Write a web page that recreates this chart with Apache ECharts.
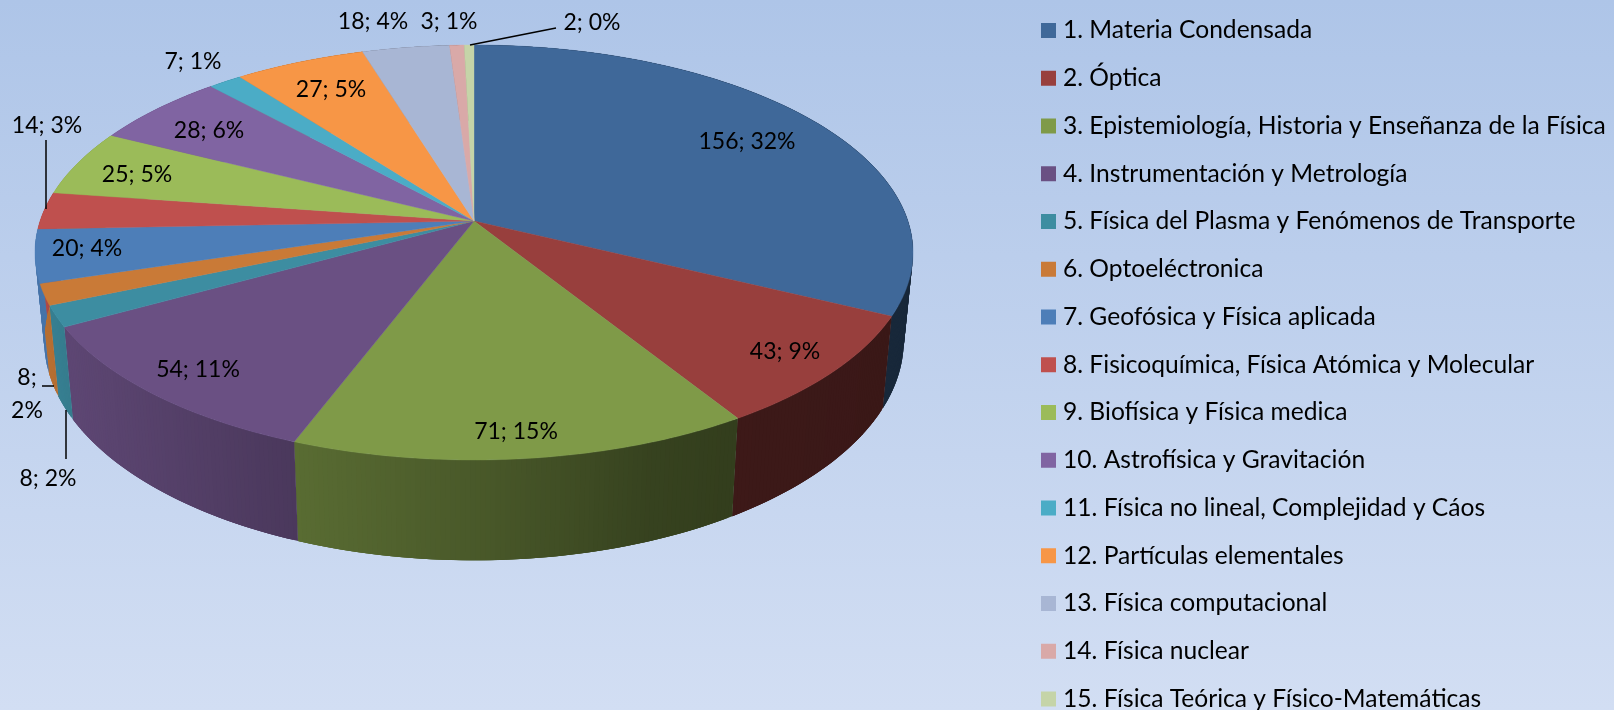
<!DOCTYPE html>
<html>
<head>
<meta charset="utf-8">
<style>html,body{margin:0;padding:0;background:#c0d2ee}#chart{width:1614px;height:710px}</style>
<script src="https://cdn.jsdelivr.net/npm/echarts@6/dist/echarts.min.js"></script>
</head>
<body>
<div id="chart"></div>
<script>
const categories = [
  "1. Materia Condensada","2. Óptica","3. Epistemiología, Historia y Enseñanza de la Física",
  "4. Instrumentación y Metrología","5. Física del Plasma y Fenómenos de Transporte","6. Optoeléctronica",
  "7. Geofósica y Física aplicada","8. Fisicoquímica, Física Atómica y Molecular","9. Biofísica y Física medica",
  "10. Astrofísica y Gravitación","11. Física no lineal, Complejidad y Cáos","12. Partículas elementales",
  "13. Física computacional","14. Física nuclear","15. Física Teórica y Físico-Matemáticas"
];
const values = [156,43,71,54,8,8,20,14,25,28,7,27,18,3,2];
const percents = [32,9,15,11,2,2,4,3,5,6,1,5,4,1,0];
const colors = ["#3f6899","#983f3d","#7f9a48","#6a5083","#3d8da1","#c97a37","#4d7eb8","#bf504e",
                "#9bbb59","#8064a2","#4bacc6","#f79646","#a8b6d4","#d9a9a8","#c5d4a8"];

// Label centres and leader lines (layout only).
const labelPos = [[747,142],[785,352],[516,432],[198,370],[48,479],[27,394],[87,249],[47,126],
                  [137,175],[209,131],[193,62],[331,90],[373,22],[449,22],[592,23]];
const labelWrap = [5];
const leaders = {4:[[66,410],[66,459]], 5:[[42,386],[54,386]], 7:[[46,140],[46,209]], 14:[[470,45],[556,28]]};

// Perspective of the disc: maps the unit circle on to the screen.
const CX=474, CY=221, A=433.9, B=202.7, K=0.1518;
const BOTTOM_SX=0.979, BOTTOM_SY=1.06, BOTTOM_Y=307;
const total = values.reduce((a,b)=>a+b,0);
function topPoint(t){ const u=Math.sin(t), v=-Math.cos(t), w=1-K*v; return [CX+A*u/w, CY+B*v/w]; }
function bottomPoint(p){ return [CX+BOTTOM_SX*(p[0]-CX), BOTTOM_Y+BOTTOM_SY*(p[1]-CY)]; }

const shadeX=[40,70,298,500,650,733,900], shadeF=[.92,.88,.70,.56,.43,.40,.38];
function shade(x){
  if(x<=shadeX[0])return shadeF[0];
  for(let i=1;i<shadeX.length;i++) if(x<=shadeX[i]){
    const r=(x-shadeX[i-1])/(shadeX[i]-shadeX[i-1]); return shadeF[i-1]+r*(shadeF[i]-shadeF[i-1]);
  }
  return shadeF[shadeF.length-1];
}
function mix(hex,f){
  const n=parseInt(hex.slice(1),16);
  return `rgb(${Math.round((n>>16&255)*f)},${Math.round((n>>8&255)*f)},${Math.round((n&255)*f)})`;
}

function render(idx){
  return function(params,api){
    const value=api.value(0);
    const before=values.slice(0,idx).reduce((a,b)=>a+b,0);
    const t0=before/total*Math.PI*2, t1=(before+value)/total*Math.PI*2;
    const n=Math.max(4,Math.ceil((t1-t0)/0.01));
    const arc=[]; for(let i=0;i<=n;i++) arc.push(topPoint(t0+(t1-t0)*i/n));
    const low=arc.map(bottomPoint);
    const children=[];
    for(let i=0;i<n;i++){
      const j=Math.min(i+3,n);
      const fill=mix(colors[idx],shade((arc[i][0]+arc[i+1][0]+low[i][0]+low[i+1][0])/4));
      children.push({type:'polygon',z2:1,shape:{points:[arc[i],arc[j],low[j],low[i]]},style:{fill}});
    }
    children.push({type:'polygon',z2:2,shape:{points:[[CX,CY]].concat(arc)},
       style:{fill:colors[idx],stroke:colors[idx],lineWidth:0.4}});
    if(leaders[idx]) children.push({type:'polyline',z2:3,shape:{points:leaders[idx]},
       style:{fill:null,stroke:'#000',lineWidth:1.5}});
    const sep=labelWrap.includes(idx)?';\n':'; ';
    children.push({type:'text',z2:4,style:{x:labelPos[idx][0],y:labelPos[idx][1],
       text:value+sep+percents[idx]+'%',fill:'#000',fontFamily:'Lato',fontSize:23,
       lineHeight:33,align:'center',verticalAlign:'middle'}});
    return {type:'group',children};
  };
}

const chart=echarts.init(document.getElementById('chart'),null,{renderer:'canvas'});
chart.setOption({
  animation:false,
  color:colors,
  backgroundColor:new echarts.graphic.LinearGradient(0,0,0,1,[{offset:0,color:'#aec5e8'},{offset:1,color:'#d2def3'}]),
  legend:{
    orient:'vertical',left:1041,top:18,padding:0,height:700,itemWidth:15,itemHeight:15,itemGap:22.75,
    icon:'rect',selectedMode:false,data:categories,
    textStyle:{fontFamily:'Lato',fontSize:24.6,color:'#000',padding:[0,0,0,2]}
  },
  series:categories.map((name,i)=>({
    type:'custom',name,coordinateSystem:'none',silent:true,
    itemStyle:{color:colors[i]},
    data:[[values[i]]],
    renderItem:render(i)
  }))
});
</script>
</body>
</html>
